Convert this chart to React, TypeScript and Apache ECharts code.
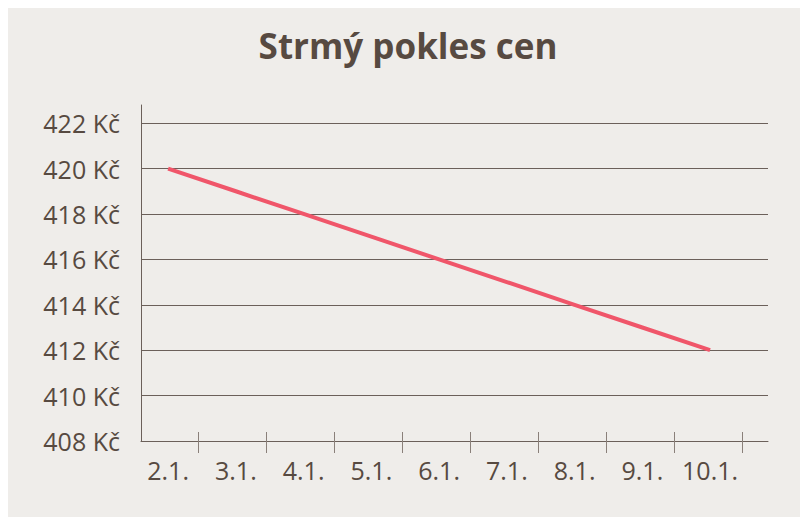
import React, { useEffect, useRef } from "react";
import * as echarts from "echarts";

const title = "Strmý pokles cen";
const days = [2, 3, 4, 5, 6, 7, 8, 9, 10];
const prices = [420, 419, 418, 417, 416, 415, 414, 413, 412];
const tickPositions = [2.44, 3.45, 4.45, 5.45, 6.46, 7.46, 8.47, 9.47, 10.47];
const yMin = 408;
const yMax = 422.8;
const yStep = 2;

export default function App() {
  const ref = useRef<HTMLDivElement>(null);
  useEffect(() => {
    if (!ref.current) return;
    const chart = echarts.init(ref.current, undefined, { renderer: "svg" });
    const textColor = "#574a41";
    const lineColor = "#6b605a";
    const font = "'Open Sans', sans-serif";
    chart.setOption({
      animation: false,
      backgroundColor: "#efedea",
      title: {
        text: title,
        left: "center",
        top: 15,
        textStyle: { color: textColor, fontSize: 35, fontWeight: "bold", fontFamily: font },
      },
      grid: { left: 133, right: 40, top: 97, bottom: 76, containLabel: false },
      xAxis: [
        {
          type: "value",
          min: 1.6,
          max: 10.855,
          position: "bottom",
          axisLine: { show: true, lineStyle: { color: lineColor, width: 1 } },
          axisTick: { show: true, customValues: tickPositions, length: 12, lineStyle: { color: "#8a807a", width: 1 } },
          axisLabel: {
            customValues: days,
            formatter: (v: number) => `${Math.round(v)}.1.`,
            color: textColor,
            fontSize: 25,
            fontWeight: 500,
            fontFamily: font,
            margin: 16,
          },
          splitLine: { show: false },
        },
        {
          type: "value",
          min: 1.6,
          max: 10.855,
          position: "bottom",
          axisLine: { show: false },
          axisTick: { show: true, inside: true, customValues: tickPositions, length: 9, lineStyle: { color: "#8a807a", width: 1 } },
          axisLabel: { show: false },
          splitLine: { show: false },
        },
      ],
      yAxis: {
        type: "value",
        min: yMin,
        max: yMax,
        interval: yStep,
        axisLine: { show: true, lineStyle: { color: lineColor, width: 1 } },
        axisTick: { show: false },
        axisLabel: {
          formatter: (v: number) => `${v} Kč`,
          showMaxLabel: false,
          color: textColor,
          fontSize: 25,
          fontWeight: 500,
          fontFamily: font,
          margin: 21,
        },
        splitLine: { show: true, showMaxLine: false, showMinLine: false, lineStyle: { color: lineColor, width: 1 } },
      },
      series: [
        {
          type: "line",
          xAxisIndex: 0,
          data: days.map((d, i) => [d, prices[i]]),
          symbol: "none",
          lineStyle: { color: "#f0566a", width: 4 },
        },
      ],
    });
    return () => chart.dispose();
  }, []);
  return <div ref={ref} style={{ width: 800, height: 509 }} />;
}
